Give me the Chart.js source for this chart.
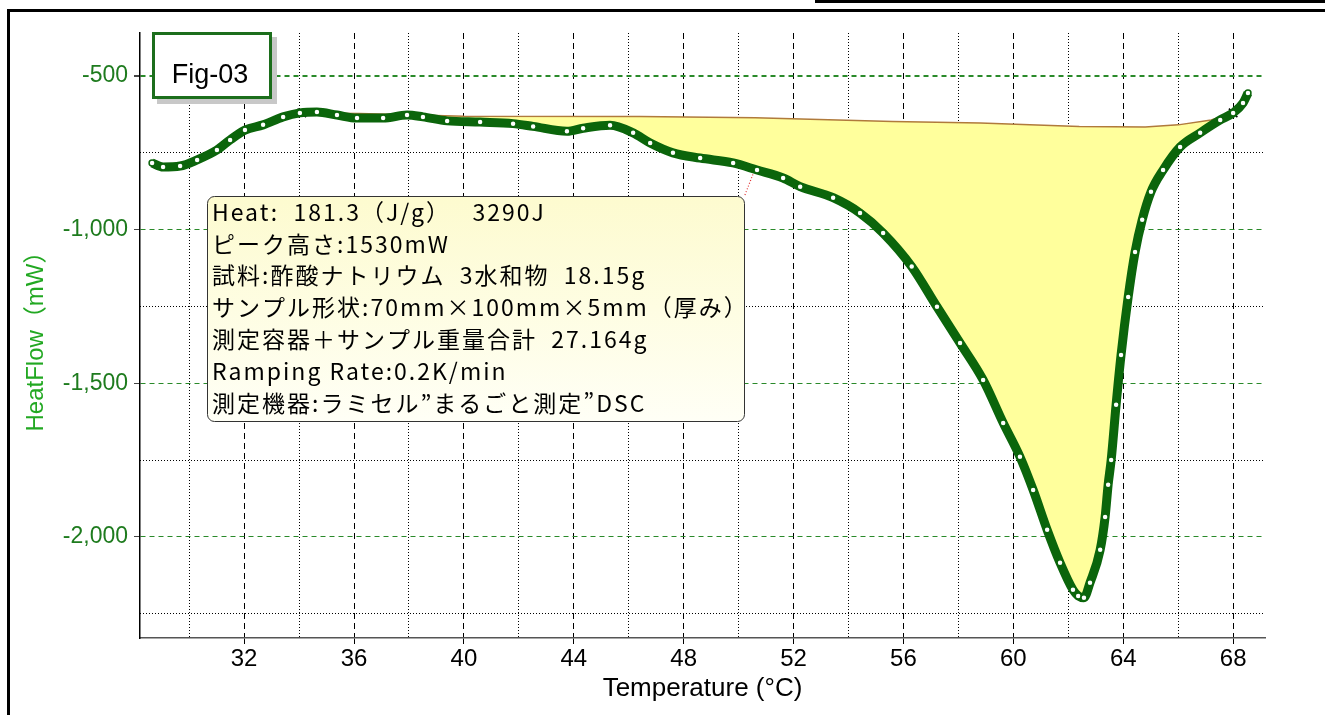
<!DOCTYPE html>
<html lang="ja">
<head>
<meta charset="UTF-8">
<title>Fig-03 HeatFlow</title>
<style>
  html, body { margin: 0; padding: 0; background: #fff; }
  #chart { display: block; }
</style>
<script src="https://cdn.jsdelivr.net/npm/chart.js@4"></script>
</head>
<body>
<canvas id="chart" width="1325" height="715"></canvas>
<script>
// DSC curve
const tempC = [28.65, 29.05, 29.67, 30.29, 31.01, 31.49, 32.03, 32.69, 33.42, 34.03,
  34.65, 35.38, 36.11, 37.06, 37.93, 38.51, 39.39, 40.59, 41.79, 42.52,
  43.75, 44.34, 45.32, 46.16, 46.78, 47.61, 48.60, 49.80, 50.67, 51.62,
  52.24, 53.44, 54.42, 55.26, 56.30, 57.22, 58.06, 58.90, 59.63, 60.24,
  60.72, 61.23, 61.70, 62.17, 62.36, 62.57, 62.79, 63.16, 63.34, 63.45,
  63.56, 63.74, 63.92, 64.18, 64.43, 64.69, 65.01, 65.45, 66.07, 66.80,
  67.53, 68.00, 68.36, 68.54];
const heatFlow = [-783, -796, -793, -773, -741, -708, -676, -659, -633, -620,
  -617, -627, -637, -637, -627, -633, -646, -650, -655, -664,
  -680, -670, -660, -685, -718, -750, -767, -783, -806, -832,
  -860, -896, -946, -1011, -1120, -1251, -1369, -1489, -1629, -1739,
  -1847, -1977, -2084, -2172, -2192, -2198, -2149, -2042, -1935, -1830,
  -1750, -1570, -1408, -1219, -1073, -968, -877, -806, -731, -685,
  -643, -620, -588, -555];

// integration baseline
const baseTemp = [34.1, 36.2, 40.0, 46.4, 50.6, 55.6, 58.8, 62.4, 64.8, 66.0, 67.2, 68.0];
const baseFlow = [-620, -622, -631, -632, -636, -648, -653, -664, -666, -659, -643, -620];

// red dotted marker line and the two X marks
const onsetTemp = [50.23, 51.29];
const onsetFlow = [-887, -643];
const markTemp = [34.1, 68.0];
const markFlow = [-620, -620];

const xMajor = [32, 36, 40, 44, 48, 52, 56, 60, 64, 68];
const xMinor = [30, 34, 38, 42, 46, 50, 54, 58, 62, 66];
const yMajor = [-500, -1000, -1500, -2000];
const yMinor = [-750, -1250, -1750, -2250];

const noteLines = [
  'Heat:  181.3（J/g）   3290J',
  'ピーク高さ:1530mW',
  '試料:酢酸ナトリウム  3水和物  18.15g',
  'サンプル形状:70mm×100mm×5mm（厚み）',
  '測定容器＋サンプル重量合計  27.164g',
  'Ramping Rate:0.2K/min',
  '測定機器:ラミセル”まるごと測定”DSC'
];

const pts = (xs, ys) => xs.map((x, i) => ({x: x, y: ys[i]}));
const setTicks = vals => scale => { scale.ticks = vals.map(v => ({value: v})); };

const X_MIN = 28.21, X_MAX = 69.16, Y_MIN = -2329, Y_MAX = -360;

const overlay = {
  id: 'overlay',
  afterDraw(chart) {
    const ctx = chart.ctx;
    ctx.save();
    // outer frame
    ctx.strokeStyle = '#000';
    ctx.lineWidth = 3;
    ctx.beginPath();
    ctx.moveTo(8.5, 715); ctx.lineTo(8.5, 10.5); ctx.lineTo(1325, 10.5);
    ctx.stroke();
    ctx.beginPath();
    ctx.moveTo(815, 1.5); ctx.lineTo(1325, 1.5);
    ctx.stroke();

    // Fig-03 label
    ctx.fillStyle = '#c8c8c8';
    ctx.fillRect(157, 37, 120, 67);
    ctx.fillStyle = '#fff';
    ctx.fillRect(152, 32, 120, 67);
    ctx.strokeStyle = '#1c6e1c';
    ctx.lineWidth = 3;
    ctx.strokeRect(153.5, 33.5, 117, 64);
    ctx.fillStyle = '#000';
    ctx.font = '27px "Liberation Sans", Arial, sans-serif';
    ctx.textAlign = 'center';
    ctx.textBaseline = 'alphabetic';
    ctx.fillText('Fig-03', 210, 83);

    // note box
    const bx = 207.5, by = 196.5, bw = 537, bh = 225;
    const grad = ctx.createLinearGradient(0, by, 0, by + bh);
    grad.addColorStop(0, '#fdfbcf');
    grad.addColorStop(1, '#fffff6');
    ctx.beginPath();
    ctx.roundRect(bx, by, bw, bh, 7);
    ctx.fillStyle = grad;
    ctx.fill();
    ctx.strokeStyle = '#333';
    ctx.lineWidth = 1;
    ctx.stroke();
    ctx.fillStyle = '#000';
    ctx.font = '23px "Noto Sans CJK JP", sans-serif';
    ctx.letterSpacing = '2px';
    ctx.textAlign = 'left';
    ctx.textBaseline = 'middle';
    noteLines.forEach((t, i) => ctx.fillText(t, 212, 212 + i * 31.8));
    ctx.restore();
  }
};

new Chart(document.getElementById('chart'), {
  type: 'line',
  data: {
    datasets: [
      {
        label: 'HeatFlow',
        data: pts(tempC, heatFlow),
        borderColor: '#0b650b',
        borderWidth: 9,
        cubicInterpolationMode: 'monotone',
        pointRadius: 3,
        pointBorderWidth: 1.5,
        pointBackgroundColor: '#fff',
        pointBorderColor: '#0b650b',
        fill: false
      },
      {
        label: 'baseline',
        data: pts(baseTemp, baseFlow),
        borderColor: '#b07a3c',
        borderWidth: 1.5,
        pointRadius: 0,
        tension: 0,
        backgroundColor: '#ffff9c',
        fill: {target: 0}
      },
      {
        label: 'onset',
        data: pts(onsetTemp, onsetFlow),
        borderColor: '#e03030',
        borderWidth: 1.2,
        borderDash: [1, 2],
        pointRadius: 0,
        fill: false
      },
      {
        label: 'marks',
        data: pts(markTemp, markFlow),
        showLine: false,
        pointStyle: 'crossRot',
        pointRadius: 6,
        pointBorderWidth: 1.5,
        pointBorderColor: '#000',
        fill: false
      }
    ]
  },
  options: {
    responsive: false,
    animation: false,
    layout: {padding: {left: 22, top: 33, right: 60, bottom: 10}},
    plugins: {legend: {display: false}, tooltip: {enabled: false}},
    scales: {
      x: {
        type: 'linear', position: 'bottom', min: X_MIN, max: X_MAX,
        afterBuildTicks: setTicks(xMajor),
        afterFit: s => { s.height = 67; },
        grid: {color: '#000', lineWidth: 1, tickLength: 6},
        border: {color: '#555', width: 1.5, dash: [6, 4]},
        ticks: {color: '#000', padding: 1, font: {family: '"Liberation Sans", Arial', size: 24}},
        title: {display: true, text: 'Temperature (°C)', color: '#000', padding: {top: 0, bottom: 1},
          font: {family: '"Liberation Sans", Arial', size: 26}}
      },
      xm: {
        type: 'linear', position: 'bottom', min: X_MIN, max: X_MAX,
        afterBuildTicks: setTicks(xMinor),
        grid: {color: '#000', lineWidth: 1, drawTicks: false},
        border: {display: false, dash: [1, 2]},
        ticks: {display: false}
      },
      y: {
        type: 'linear', position: 'left', min: Y_MIN, max: Y_MAX,
        afterBuildTicks: setTicks(yMajor),
        afterFit: s => { s.width = 118; },
        grid: {color: '#2a8a2a', lineWidth: c => (c.tick && c.tick.value === -500 ? 2 : 1), tickLength: 6,
          tickColor: '#444'},
        border: {color: '#000', width: 1.5, dash: [5, 4]},
        ticks: {color: '#1e7b1e', padding: 6, font: {family: '"Liberation Sans", Arial', size: 23},
          callback: v => v.toLocaleString('en-US')},
        title: {display: true, text: 'HeatFlow（mW）', color: '#22a822', padding: {top: 0, bottom: 0},
          font: {family: '"Liberation Sans", "Noto Sans CJK JP", Arial', size: 24}}
      },
      ym: {
        type: 'linear', position: 'left', min: Y_MIN, max: Y_MAX,
        afterBuildTicks: setTicks(yMinor),
        grid: {color: '#000', lineWidth: 1, drawTicks: false},
        border: {display: false, dash: [1, 2]},
        ticks: {display: false}
      }
    }
  },
  plugins: [overlay]
});
</script>
</body>
</html>
